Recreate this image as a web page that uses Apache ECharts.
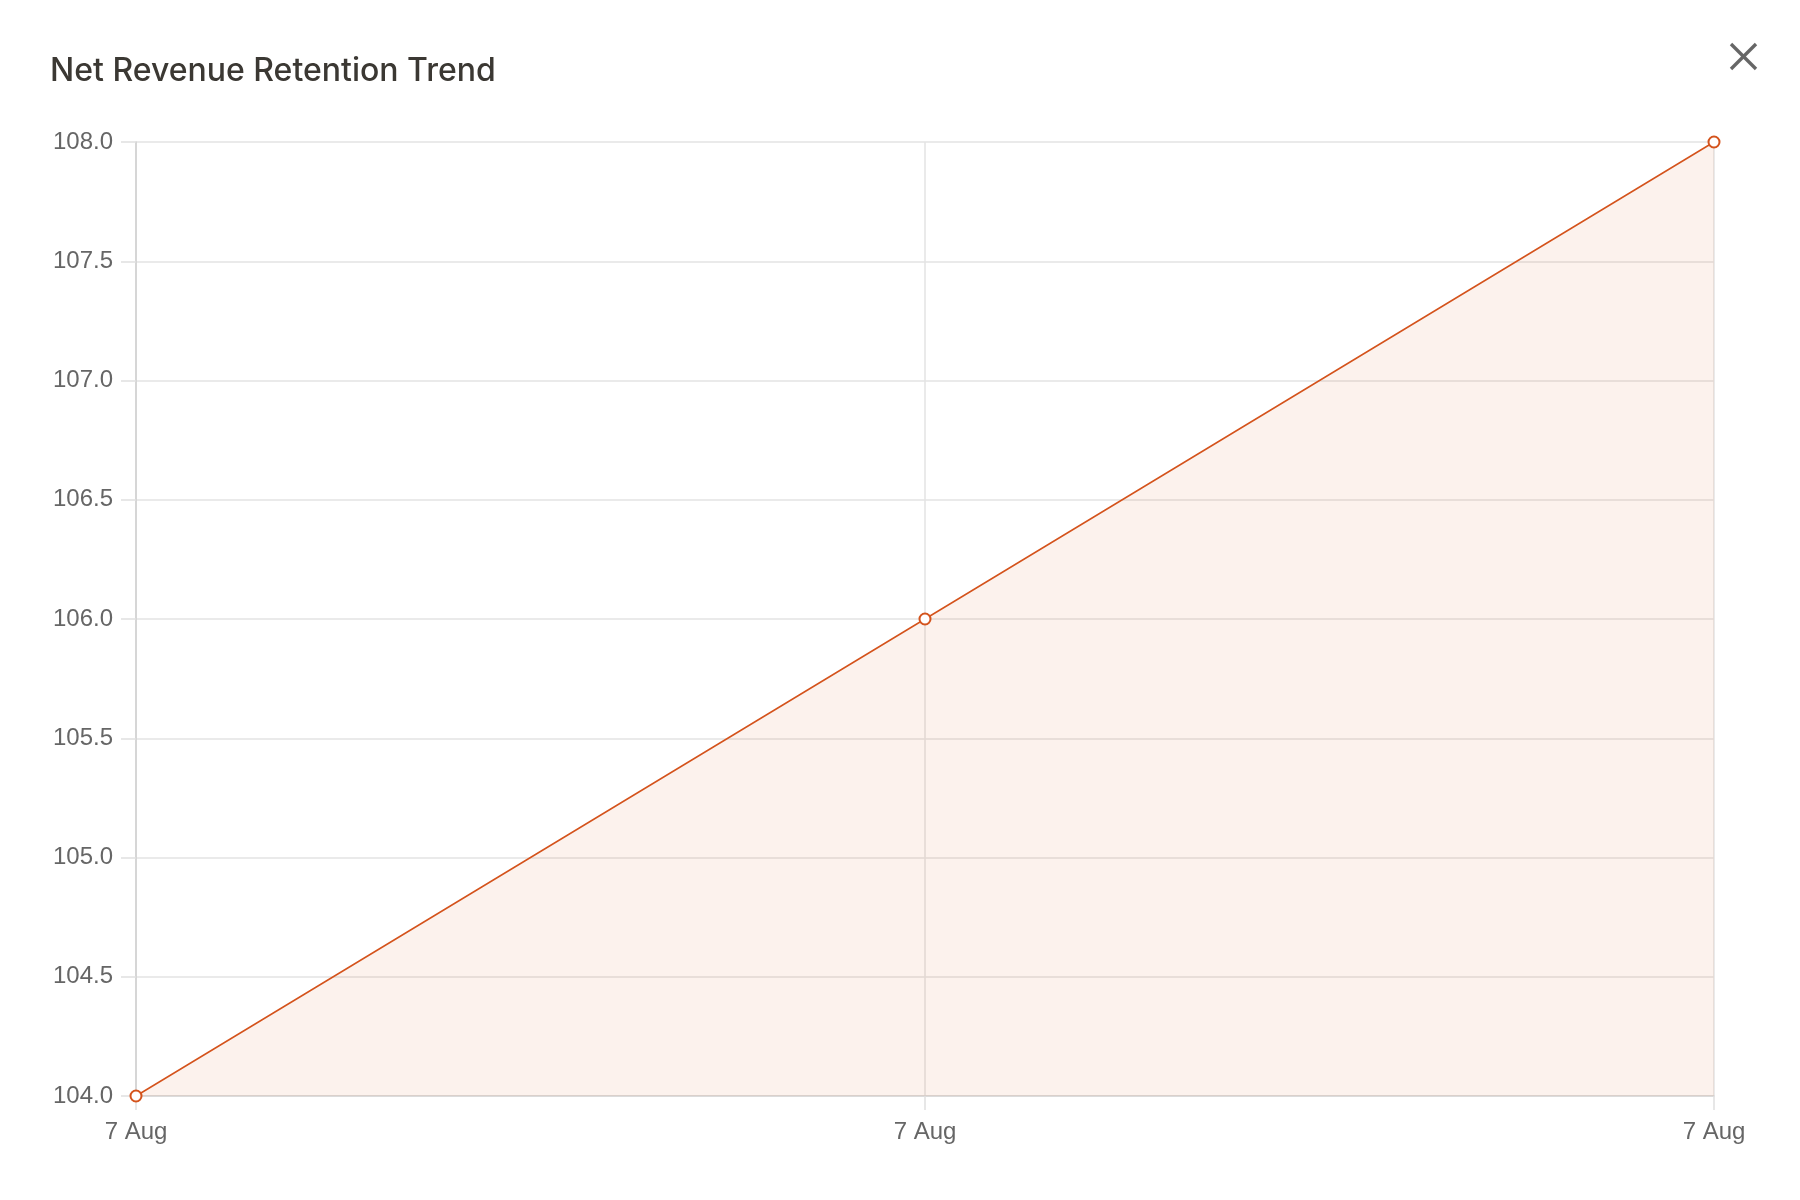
<!DOCTYPE html>
<html>
<head>
<meta charset="utf-8">
<script src="https://cdn.jsdelivr.net/npm/echarts@6/dist/echarts.min.js"></script>
<style>
html,body{margin:0;padding:0;background:#fff;}
#chart{width:1800px;height:1200px;}
</style>
</head>
<body>
<div id="chart"></div>
<script>
const chartTitle = 'Net Revenue Retention Trend';
const categories = ['7 Aug', '7 Aug ', '7 Aug  '];
const nrrValues = [104.0, 106.0, 108.0];
const yTicks = { min: 104, max: 108, interval: 0.5 };

const chart = echarts.init(document.getElementById('chart'));
chart.setOption({
  backgroundColor: '#ffffff',
  animation: false,
  title: {
    text: chartTitle,
    left: 45,
    top: 50,
    textStyle: { fontFamily: 'Inter', fontSize: 32, fontWeight: 500, color: '#3b3833' }
  },
  graphic: [
    { type: 'line', shape: { x1: 1731, y1: 44, x2: 1756, y2: 69 }, style: { stroke: '#666', lineWidth: 3.4 } },
    { type: 'line', shape: { x1: 1756, y1: 44, x2: 1731, y2: 69 }, style: { stroke: '#666', lineWidth: 3.4 } }
  ],
  grid: { left: 136, right: 86, top: 142, bottom: 104, containLabel: false },
  xAxis: {
    type: 'category',
    data: categories,
    boundaryGap: false,
    axisLine: { show: true, lineStyle: { color: '#d6d6d6', width: 1.5 } },
    axisTick: { show: true, length: 14, lineStyle: { color: '#e0e0e0', width: 1.5 } },
    axisLabel: {
      color: '#666', fontFamily: 'Liberation Sans', fontSize: 24, margin: 24,
      formatter: v => v.trim()
    },
    splitLine: { show: true, lineStyle: { color: '#e3e3e3', width: 1.5 } }
  },
  yAxis: {
    type: 'value',
    min: yTicks.min,
    max: yTicks.max,
    interval: yTicks.interval,
    axisLine: { show: true, lineStyle: { color: '#cfcfcf', width: 1.5 } },
    axisTick: { show: true, length: 15, lineStyle: { color: '#e0e0e0', width: 1.5 } },
    axisLabel: {
      color: '#666', fontFamily: 'Liberation Sans', fontSize: 24, margin: 23,
      formatter: v => v.toFixed(1)
    },
    splitLine: { show: true, lineStyle: { color: '#e3e3e3', width: 1.5 } }
  },
  series: [{
    type: 'line',
    data: nrrValues,
    symbol: 'emptyCircle',
    symbolSize: 11,
    showAllSymbol: true,
    lineStyle: { color: '#d4531c', width: 1.5 },
    itemStyle: { color: '#d4531c', borderColor: '#d4531c', borderWidth: 1.5 },
    areaStyle: { color: 'rgba(212,83,28,0.11)', origin: 'start' },
    z: 5
  }]
});
</script>
</body>
</html>
